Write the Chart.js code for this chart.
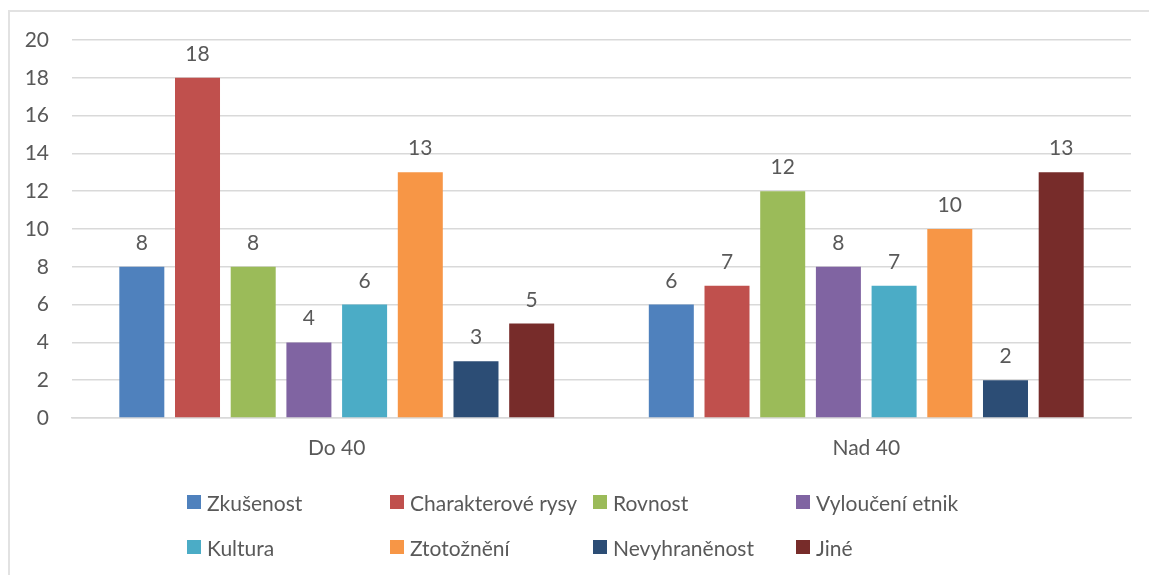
<!DOCTYPE html>
<html>
<head>
<meta charset="utf-8">
<script src="https://cdn.jsdelivr.net/npm/chart.js@4/dist/chart.umd.min.js"></script>
<style>
  body { margin: 0; background: #fff; }
  #wrap { position: relative; width: 1149px; height: 575px; overflow: hidden; }
  #ramecek { position: absolute; left: 8px; top: 10px; width: 1200px; height: 600px;
             border-top: 2px solid #e2e2e2; border-left: 2px solid #e2e2e2; box-sizing: border-box; }
  canvas { position: absolute; left: 0; top: 0; }
  #legenda { position: absolute; left: 187px; top: 490px; display: grid;
             grid-template-columns: 203px 203px 203px auto; row-gap: 21px;
             font-family: Lato, sans-serif; font-size: 21px; color: #595959; }
  .polozka { display: flex; align-items: center; height: 24px; white-space: nowrap; }
  .ctverec { width: 14px; height: 14px; margin-right: 6px; flex: none; }
</style>
</head>
<body>
<div id="wrap">
  <div id="ramecek"></div>
  <canvas id="graf" width="1149" height="575"></canvas>
  <div id="legenda"></div>
</div>
<script>
// Data z grafu
const kategorie = ['Do 40', 'Nad 40'];
const nazvy = ['Zkušenost', 'Charakterové rysy', 'Rovnost', 'Vyloučení etnik',
               'Kultura', 'Ztotožnění', 'Nevyhraněnost', 'Jiné'];
const zkusenost = [8, 6];
const charakter = [18, 7];
const rovnost = [8, 12];
const vylouceni = [4, 8];
const kultura = [6, 7];
const ztotozneni = [13, 10];
const nevyhranenost = [3, 2];
const jine = [5, 13];
const yTicks = [0, 2, 4, 6, 8, 10, 12, 14, 16, 18, 20];

const hodnoty = [zkusenost, charakter, rovnost, vylouceni, kultura, ztotozneni, nevyhranenost, jine];
const barvy = ['#4F81BD', '#C0504D', '#9BBB59', '#8064A2', '#4BACC6', '#F79646', '#2C4D75', '#772C2A'];

const pismo = 'Lato, sans-serif';
const sedaText = '#595959';

// Popisky hodnot nad sloupci
const popiskyPlugin = {
    id: 'popisky',
    afterDatasetsDraw(chart) {
        const ctx = chart.ctx;
        ctx.save();
        ctx.font = '21px ' + pismo;
        ctx.fillStyle = sedaText;
        ctx.textAlign = 'center';
        ctx.textBaseline = 'alphabetic';
        chart.data.datasets.forEach((ds, i) => {
            chart.getDatasetMeta(i).data.forEach((el, j) => {
                ctx.fillText(String(ds.data[j]), el.x, el.y - 17);
            });
        });
        ctx.restore();
    }
};

const datasety = nazvy.map((n, i) => ({
    label: n,
    data: hodnoty[i],
    backgroundColor: barvy[i],
    categoryPercentage: 0.8415,
    barPercentage: 0.808
}));

const graf = new Chart(document.getElementById('graf'), {
    type: 'bar',
    data: { labels: kategorie, datasets: datasety },
    options: {
        responsive: false,
        animation: false,
        layout: { padding: { left: 0, top: 40, right: 18, bottom: 107 } },
        plugins: { legend: { display: false }, tooltip: { enabled: false } },
        scales: {
            x: {
                grid: { display: false, drawTicks: false },
                border: { display: true, color: '#d9d9d9', width: 1.5 },
                ticks: { font: { family: pismo, size: 21 }, color: sedaText, padding: 18 },
                afterFit(s) { s.height = 50; }
            },
            y: {
                min: 0,
                max: 20,
                afterBuildTicks(s) { s.ticks = yTicks.map(v => ({ value: v })); },
                grid: { color: '#d9d9d9', lineWidth: 1.5, drawTicks: false },
                border: { display: false },
                ticks: { font: { family: pismo, size: 21 }, color: sedaText, padding: 23 },
                afterFit(s) { s.width = 72; }
            }
        }
    },
    plugins: [popiskyPlugin]
});

// Legenda ve mrizce 4 sloupcu
const legenda = document.getElementById('legenda');
graf.data.datasets.forEach(ds => {
    const div = document.createElement('div');
    div.className = 'polozka';
    div.innerHTML = `<span class="ctverec" style="background:${ds.backgroundColor}"></span>${ds.label}`;
    legenda.appendChild(div);
});
</script>
</body>
</html>
